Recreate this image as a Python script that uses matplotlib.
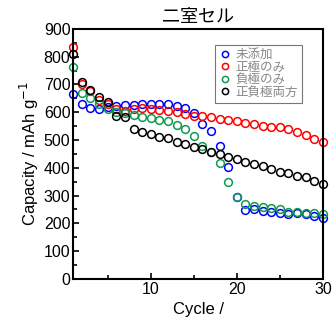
import numpy as np
import matplotlib
matplotlib.use("Agg")
import matplotlib.pyplot as plt
from matplotlib.ticker import MultipleLocator

plt.rcParams['font.family'] = ['Liberation Sans', 'Noto Sans CJK JP']

# Data
cycles = np.arange(1, 31)
mitenka = [665, 630, 614, 612, 620, 623, 625, 625, 630, 630, 630, 630, 623, 615, 598,
           557, 533, 480, 402, 294, 248, 251, 246, 242, 239, 234, 239, 234, 227, 218]
seikyoku = [836, 701, 678, 644, 630, 611, 606, 611, 617, 611, 608, 605, 600, 594, 587,
            587, 582, 577, 572, 569, 563, 558, 551, 548, 546, 539, 530, 518, 504, 493]
fukyoku = [764, 668, 650, 630, 612, 602, 596, 590, 584, 578, 572, 570, 554, 539, 515,
           480, 458, 419, 348, 294, 269, 264, 258, 254, 251, 242, 242, 239, 236, 234]
ryouhou = [810, 708, 680, 656, 638, 587, 582, 539, 530, 522, 512, 506, 494, 486, 474,
           467, 458, 450, 438, 431, 422, 414, 407, 395, 386, 380, 372, 366, 354, 342]

labels = ['未添加', '正極のみ', '負極のみ', '正負極両方']
colors = ['#0000ff', '#ff0000', '#109a50', '#000000']

fig = plt.figure(figsize=(3.36, 3.21), dpi=100)
ax = fig.add_axes([0.218, 0.131, 0.743, 0.779])

for ys, lab, c in zip([mitenka, seikyoku, fukyoku, ryouhou], labels, colors):
    ax.plot(cycles, ys, 'o', mfc='none', mec=c, ms=5.6, mew=1.1, label=lab,
            clip_on=False)

ax.set_xlim(1, 30)
ax.set_ylim(0, 900)
ax.xaxis.set_major_locator(MultipleLocator(10))
ax.xaxis.set_minor_locator(MultipleLocator(5))
ax.yaxis.set_major_locator(MultipleLocator(100))
ax.yaxis.set_minor_locator(MultipleLocator(50))
ax.tick_params(which='both', direction='in', labelsize=11.5, width=1.2)
ax.tick_params(which='major', length=4, pad=2)
ax.tick_params(which='minor', length=3)
for s in ax.spines.values():
    s.set_linewidth(1.5)

ax.set_xlabel('Cycle /', fontsize=12, labelpad=4)
ax.set_ylabel('Capacity / mAh g$^{-1}$', fontsize=12, labelpad=2)
ax.set_title('二室セル', fontsize=13, pad=5)

leg = ax.legend(loc='upper right', bbox_to_anchor=(0.94, 0.96), fontsize=9,
                handletextpad=0.3, handlelength=1.0, borderpad=0.3,
                labelspacing=0.05, fancybox=False, framealpha=1,
                markerscale=0.8)
leg.get_frame().set_edgecolor('#777777')
leg.get_frame().set_linewidth(0.8)
for t in leg.get_texts():
    t.set_color('#888888')

fig.savefig('out.png', dpi=100)
